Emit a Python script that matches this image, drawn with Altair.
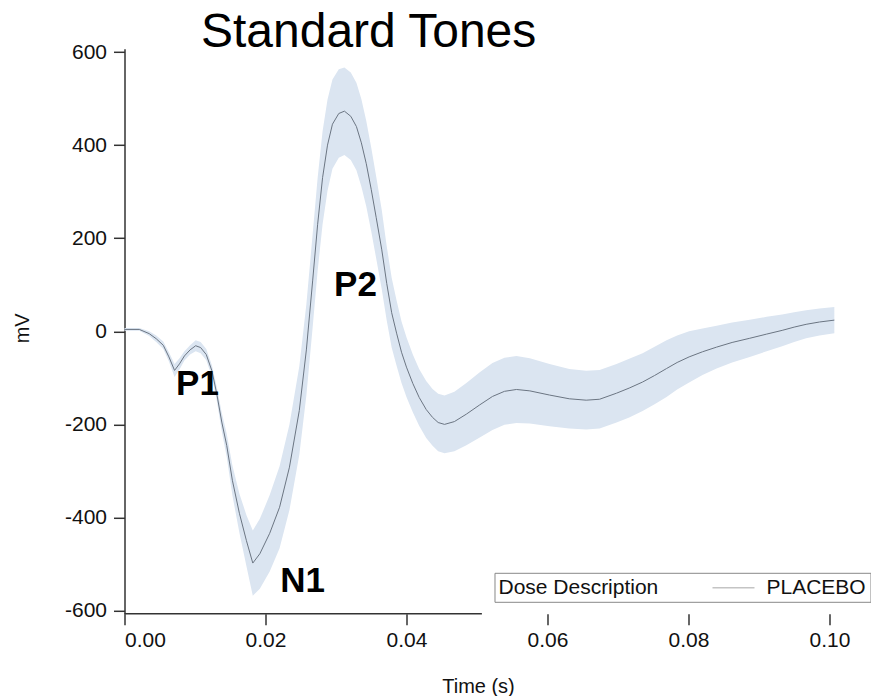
import altair as alt
import pandas as pd

# ---- data ----
time_s = [0.0000, 0.0021, 0.0035, 0.0045, 0.0055, 0.0063, 0.0071, 0.0078, 0.0085, 0.0093,
          0.0101, 0.0108, 0.0116, 0.0124, 0.0131, 0.0138, 0.0145, 0.0153, 0.0163, 0.0173,
          0.0182, 0.0192, 0.0206, 0.0220, 0.0234, 0.0248, 0.0258, 0.0267, 0.0274, 0.0281,
          0.0288, 0.0295, 0.0304, 0.0312, 0.0321, 0.0329, 0.0336, 0.0343, 0.0350, 0.0357,
          0.0365, 0.0372, 0.0379, 0.0386, 0.0393, 0.0400, 0.0409, 0.0418, 0.0428, 0.0437,
          0.0445, 0.0454, 0.0468, 0.0485, 0.0504, 0.0522, 0.0539, 0.0556, 0.0575, 0.0603,
          0.0631, 0.0655, 0.0674, 0.0698, 0.0716, 0.0735, 0.0752, 0.0769, 0.0784, 0.0801,
          0.0820, 0.0840, 0.0862, 0.0887, 0.0911, 0.0933, 0.0950, 0.0967, 0.0986, 0.1007]
mean_mv = [4, 4, -5, -16, -30, -55, -84, -70, -53, -40,
           -31, -35, -50, -85, -135, -195, -245, -320, -391, -450,
           -498, -478, -434, -378, -292, -170, -40, 110, 230, 330,
           400, 445, 468, 473, 462, 440, 405, 360, 305, 245,
           175, 103, 40, -4, -45, -77, -112, -142, -168, -185,
           -196, -200, -194, -178, -158, -140, -129, -125, -128, -137,
           -145, -148, -146, -133, -122, -109, -95, -80, -67, -55,
           -44, -34, -24, -15, -6, 2, 9, 15, 20, 24]
band_halfwidth_mv = [3, 3, 5, 7, 8, 10, 14, 12, 10, 10,
                     12, 12, 12, 12, 15, 20, 25, 32, 42, 55,
                     70, 75, 82, 88, 92, 95, 98, 100, 100, 100,
                     98, 96, 95, 94, 94, 94, 94, 92, 90, 88,
                     85, 80, 75, 70, 66, 64, 62, 61, 61, 61,
                     62, 62, 64, 67, 70, 72, 72, 72, 70, 67,
                     64, 63, 63, 63, 63, 62, 62, 61, 58, 55,
                     50, 46, 43, 40, 37, 34, 32, 30, 29, 28]

peak_labels = ["P1", "N1", "P2"]
peak_time_s = [0.01035, 0.02525, 0.03277]
peak_mv = [-137, -560, 76]

dose = ["PLACEBO"]
legend_title = "Dose Description"
chart_title = "Standard Tones"
x_title = "Time (s)"
y_title = "mV"
x_ticks = [0.0, 0.02, 0.04, 0.06, 0.08, 0.10]
y_ticks = [-600, -400, -200, 0, 200, 400, 600]
x_axis_line_end = 0.0507

# ---- tables ----
df = pd.DataFrame({
    "t": time_s,
    "mean": mean_mv,
    "lo": [m - h for m, h in zip(mean_mv, band_halfwidth_mv)],
    "hi": [m + h for m, h in zip(mean_mv, band_halfwidth_mv)],
})
peaks = pd.DataFrame({"t": peak_time_s, "v": peak_mv, "label": peak_labels})
legend_df = pd.DataFrame({"dose": dose})
axis_df = pd.DataFrame({"x0": [x_ticks[0]], "x1": [x_axis_line_end], "y": [-607]})

FONT = "Liberation Sans"
x_scale = alt.Scale(domain=[0, 0.102], nice=False, zero=False)
y_scale = alt.Scale(domain=[-607, 607], nice=False)

x_axis = alt.Axis(values=x_ticks, format=".2f", title=x_title, domain=False, grid=False,
                  tickSize=11, tickColor="#333", tickWidth=1.5, labelPadding=5,
                  labelFont=FONT, labelFontSize=21, labelColor="#111",
                  titleFont=FONT, titleFontSize=20, titleFontWeight="normal", titleColor="#111",
                  titleX=353.5, titleY=73, titleAlign="center", titleBaseline="middle")
y_axis = alt.Axis(values=y_ticks, labelExpr="'' + datum.value", title=y_title, grid=False,
                  domainColor="#333", domainWidth=1.5,
                  tickSize=11, tickColor="#333", tickWidth=1.5, labelPadding=7,
                  labelFont=FONT, labelFontSize=21, labelColor="#111",
                  titleFont=FONT, titleFontSize=20, titleFontWeight="normal", titleColor="#111",
                  titleX=-102, titleY=279, titleAngle=270, titleAlign="center", titleBaseline="middle")

band = alt.Chart(df).mark_area(color="#dbe5f1", opacity=1).encode(
    x=alt.X("t:Q", scale=x_scale, axis=x_axis),
    y=alt.Y("lo:Q", scale=y_scale, axis=y_axis),
    y2="hi:Q",
)

line = alt.Chart(df).mark_line(color="#6a7482", strokeWidth=1).encode(
    x="t:Q", y="mean:Q"
)

xline = alt.Chart(axis_df).mark_rule(color="#333", strokeWidth=1.5).encode(
    x="x0:Q", x2="x1:Q", y="y:Q"
)

labels = alt.Chart(peaks).mark_text(font=FONT, fontSize=35, fontWeight="bold", color="black",
                                    align="center", baseline="alphabetic").encode(
    x="t:Q", y="v:Q", text="label:N"
)

legend_layer = alt.Chart(legend_df).mark_rule(strokeWidth=1.5).encode(
    color=alt.Color("dose:N", scale=alt.Scale(domain=dose, range=["#c4c4c4"]),
                    legend=alt.Legend(title=legend_title, orient="none", legendX=370, legendY=524,
                                      direction="horizontal", titleOrient="left",
                                      titleBaseline="middle", titleAnchor="middle",
                                      symbolType="M-2.1,0H2.1", symbolSize=400,
                                      symbolStrokeWidth=1.5,
                                      titleFont=FONT, titleFontSize=21, titleFontWeight="normal",
                                      titleColor="#111", titlePadding=64,
                                      labelFont=FONT, labelFontSize=21, labelColor="#111",
                                      labelOffset=22, strokeColor="#888", fillColor="white",
                                      padding=4, cornerRadius=0)),
    x=alt.value(0), x2=alt.value(0), y=alt.value(0), y2=alt.value(0),
)

chart = alt.layer(band, line, xline, labels, legend_layer).properties(
    width=719,
    height=565,
    title=alt.TitleParams(text=chart_title, font=FONT, fontSize=48, fontWeight="normal",
                          color="black", anchor="start", align="left", dx=188.5, dy=17.5,
                          offset=2),
    autosize=alt.AutoSizeParams(type="none"),
    padding={"left": 116.5, "top": 40.8, "right": 27, "bottom": 82},
).configure_view(stroke=None)

chart.save("out.html", embed_options={"renderer": "svg", "actions": False})
